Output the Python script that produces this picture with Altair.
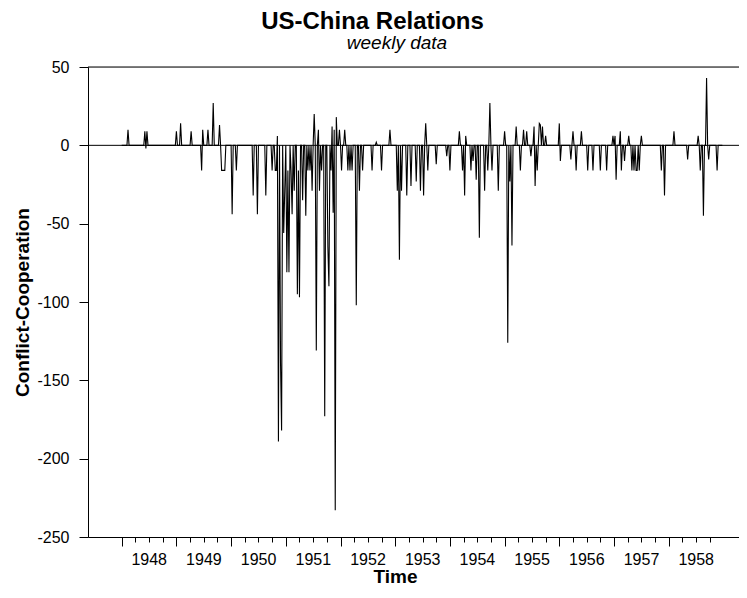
import altair as alt
import pandas as pd

START_YEAR = 1948
N_WEEKS = 572  # weekly observations, 1948-1958

# weeks (index from first week of 1948) with a non-zero score, and the score
event_weeks = [
    6, 22, 23, 24, 52, 56, 66, 76, 77, 82, 87, 93, 95, 96, 97, 98, 105, 109,
    125, 129, 137, 143, 146, 147, 148, 149, 151, 152, 154, 155, 157, 158, 159,
    161, 162, 164, 167, 168, 169, 172, 175, 177, 179, 181, 183, 185, 187, 188,
    190, 193, 196, 197, 199, 200, 201, 202, 203, 204, 207, 209, 212, 215, 217,
    219, 223, 226, 229, 238, 242, 247, 255, 262, 264, 266, 271, 275, 280, 284,
    287, 289, 291, 299, 309, 312, 321, 324, 326, 327, 332, 334, 337, 340, 345,
    348, 350, 352, 358, 364, 367, 369, 371, 375, 379, 382, 385, 389, 392, 393,
    395, 397, 398, 400, 403, 416, 417, 427, 429, 432, 437, 443, 448, 455, 461,
    467, 469, 470, 474, 475, 478, 482, 485, 487, 489, 490, 492, 494, 513, 516,
    525, 538, 548, 550, 553, 556, 558, 566,
]
event_values = [
    10, 9, -2, 9, 9, 14, 9, -16, 10, 10, 27, 13, -16, -16, -16, -16, -44, -16,
    -32, -44, -32, -16, -16, -16, 6, -189, -139, -182, -56, -29, -81, -16, -81,
    -16, -44, -29, -95, -16, -97, -35, -45, -16, -16, -29, 20, -131, 10, -29,
    -16, -173, -65, -90, -16, 12, -43, 10, -233, 18, 10, -16, 10, -16, -16,
    -16, -102, -29, -16, -16, 2, -16, 10, -29, -73, -29, -32, -26, -23, -29,
    -32, 14, -16, -12, -7, -16, 9, -16, -32, 6, -16, -10, -22, -59, -29,
    -16, 27, -16, -29, 9, -126, -23, -64, 12, -16, 10, 9, -7, 12, -26,
    -16, 14, 13, 12, 6, 14, -10, -9, 9, -16, 9, -16, -16, -16, -16,
    6, 6, -22, 9, -16, -10, 6, -16, -16, -16, -16, -16, 6, -16, -32,
    9, -9, 6, -16, -45, 43, -9, -16,
]

years = list(range(1948, 1959))
y_ticks = [-250, -200, -150, -100, -50, 0, 50]
ref_levels = [0, 50]
x_domain = [1947.384, 1959.285]
y_domain = [-250, 50]

scores = [0] * N_WEEKS
for w, v in zip(event_weeks, event_values):
    scores[w] = v
df = pd.DataFrame({
    "time": [START_YEAR + w / 52 for w in range(N_WEEKS)],
    "score": scores,
})
quarters = [y + q / 4 for y in years for q in (1, 2, 3)]
df_minor = pd.DataFrame({"q": quarters})
df_ref = pd.DataFrame({"level": ref_levels})
df_sub = pd.DataFrame({"t": ["weekly data"]})

FONT = "Liberation Sans"
xs = alt.Scale(domain=x_domain, nice=False, zero=False)
ys = alt.Scale(domain=y_domain, nice=False, zero=False)

major_axis = alt.Axis(
    orient="bottom", values=years, format="d", labelOffset=27, tickSize=9,
    labelPadding=5, labelFontSize=16, labelFont=FONT, labelColor="black",
    labelFlush=False, labelOverlap=False, labelBound=False,
    tickColor="black", domainColor="black", grid=False,
    title="Time", titleFont=FONT, titleFontSize=19, titleFontWeight="bold",
    titleColor="black", titleX=307, titleY=45, titleAlign="center",
    titleBaseline="alphabetic", titleAnchor="start",
)
minor_axis = alt.Axis(
    orient="bottom", values=quarters, labels=False, tickSize=5,
    tickColor="black", domain=False, grid=False, title=None,
)
y_axis = alt.Axis(
    values=y_ticks, tickSize=9, labelPadding=10, labelFontSize=16,
    labelFont=FONT, labelColor="black", tickColor="black",
    labelExpr="'' + datum.value",
    domainColor="black", grid=False, labelFlush=False,
    title="Conflict-Cooperation", titleFont=FONT, titleFontSize=19,
    titleFontWeight="bold", titleColor="black", titleAngle=270,
    titleX=-66, titleY=235, titleAlign="center", titleBaseline="middle",
    titleAnchor="start",
)

rules = alt.Chart(df_ref).mark_rule(color="black", strokeWidth=1).encode(
    y=alt.Y("level:Q", scale=ys, axis=y_axis)
)
line = alt.Chart(df).mark_line(color="black", strokeWidth=1.1).encode(
    x=alt.X("time:Q", scale=xs, axis=major_axis),
    y=alt.Y("score:Q", scale=ys, axis=y_axis),
)
minor = alt.Chart(df_minor).mark_rule(opacity=0).encode(
    x=alt.X("q:Q", scale=xs, axis=minor_axis)
)
subtitle = alt.Chart(df_sub).mark_text(
    font=FONT, fontStyle="italic", fontSize=19, align="center",
    baseline="alphabetic", color="black",
).encode(text="t:N", x=alt.value(309), y=alt.value(-18))

chart = alt.layer(rules, line, minor, subtitle).resolve_axis(
    x="independent"
).properties(
    width=651, height=470,
    autosize=alt.AutoSizeParams(type="none"),
    padding={"left": 80, "top": 59, "right": 0, "bottom": 50},
    title=alt.Title(
        "US-China Relations", font=FONT, fontSize=24, fontWeight="bold",
        color="black", anchor="middle", dx=-41, offset=0,
    ),
).configure_view(stroke=None).configure(font=FONT)

chart.save("out.html", embed_options={"renderer": "svg", "actions": False})
